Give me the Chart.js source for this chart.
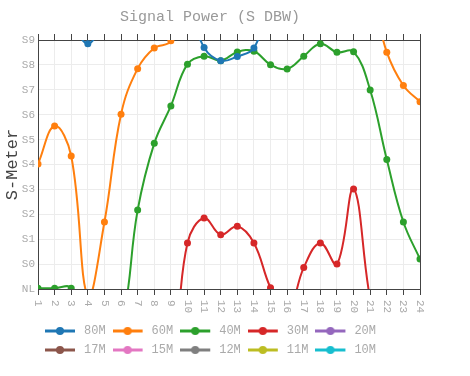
<!DOCTYPE html>
<html>
<head>
<meta charset="utf-8">
<script src="https://cdn.jsdelivr.net/npm/chart.js@4.4.1/dist/chart.umd.min.js"></script>
<style>
    html, body { margin: 0; padding: 0; background: #fff; }
    #signalPower { display: block; }
</style>
</head>
<body>
<canvas id="signalPower" width="470" height="376"></canvas>
<script>
// Hours of the day (x axis)
const hours = ['1', '2', '3', '4', '5', '6', '7', '8', '9', '10', '11', '12',
               '13', '14', '15', '16', '17', '18', '19', '20', '21', '22', '23', '24'];

// S-meter tick labels, value -1 = NL, 0 = S0 ... 9 = S9
const sMeterLabels = ['NL', 'S0', 'S1', 'S2', 'S3', 'S4', 'S5', 'S6', 'S7', 'S8', 'S9'];

const bands = ['80M', '60M', '40M', '30M', '20M', '17M', '15M', '12M', '11M', '10M'];
const bandColors = ['#1f77b4', '#ff7f0e', '#2ca02c', '#d62728', '#9467bd',
                    '#8c564b', '#e377c2', '#7f7f7f', '#bcbd22', '#17becf'];

// Signal readings per hour (values above 9 / below -1 run off the plot)
const band80M = [12, 12, 10, 8.85, 10, 12, 12, 12, 12, 10.5, 8.7, 8.17,
                 8.34, 8.68, 10.5, 12, 12, 12, 12, 12, 12, 12, 12, 12];
const band60M = [4.02, 5.55, 4.34, -1.3, 1.69, 6.02, 7.85, 8.68, 8.97, 12, 12, 12,
                 12, 12, 12, 12, 12, 12, 12, 12, 11, 8.51, 7.17, 6.52];
const band40M = [-0.97, -0.97, -0.97, -3, -3, -2.5, 2.17, 4.85, 6.35, 8.03, 8.35, 8.17,
                 8.52, 8.55, 8.01, 7.84, 8.35, 8.85, 8.51, 8.53, 6.99, 4.2, 1.69, 0.2];
const band30M = [-4, -4, -4, -4, -4, -4, -4, -4, -4, 0.85, 1.85, 1.18,
                 1.52, 0.85, -0.95, -2, -0.14, 0.85, 0, 3.02, -1.4, -4, -4, -4];
const band20M = [-3, -3, -3, -3, -3, -3, -3, -3, -3, -3, -3, -3,
                 -3, -3, -3, -3, -3, -3, -3, -3, -3, -3, -3, -3];
const band17M = [-3, -3, -3, -3, -3, -3, -3, -3, -3, -3, -3, -3,
                 -3, -3, -3, -3, -3, -3, -3, -3, -3, -3, -3, -3];
const band15M = [-3, -3, -3, -3, -3, -3, -3, -3, -3, -3, -3, -3,
                 -3, -3, -3, -3, -3, -3, -3, -3, -3, -3, -3, -3];
const band12M = [-3, -3, -3, -3, -3, -3, -3, -3, -3, -3, -3, -3,
                 -3, -3, -3, -3, -3, -3, -3, -3, -3, -3, -3, -3];
const band11M = [-3, -3, -3, -3, -3, -3, -3, -3, -3, -3, -3, -3,
                 -3, -3, -3, -3, -3, -3, -3, -3, -3, -3, -3, -3];
const band10M = [-3, -3, -3, -3, -3, -3, -3, -3, -3, -3, -3, -3,
                 -3, -3, -3, -3, -3, -3, -3, -3, -3, -3, -3, -3];

const bandValues = [band80M, band60M, band40M, band30M, band20M,
                    band17M, band15M, band12M, band11M, band10M];

const FONT = "'Liberation Mono', 'DejaVu Sans Mono', monospace";
const AXIS = '#444';
const GRID = '#ececec';
const TEXT = '#aaa';

// line + dot marker for the legend
function legendMarker(color) {
    const c = document.createElement('canvas');
    c.width = 33;
    c.height = 10;
    const g = c.getContext('2d');
    g.strokeStyle = color;
    g.lineWidth = 3;
    g.beginPath();
    g.moveTo(0, 5);
    g.lineTo(30, 5);
    g.stroke();
    g.fillStyle = color;
    g.beginPath();
    g.arc(15, 5, 4, 0, Math.PI * 2);
    g.fill();
    return c;
}
const legendMarkers = bandColors.map(legendMarker);

// hour labels drawn rotated clockwise under the bottom axis
const hourLabels = {
    id: 'hourLabels',
    afterDraw(chart) {
        const scale = chart.scales.x;
        const ctx = chart.ctx;
        ctx.save();
        ctx.font = '11px ' + FONT;
        ctx.fillStyle = TEXT;
        ctx.textAlign = 'left';
        ctx.textBaseline = 'middle';
        scale.ticks.forEach((tick, i) => {
            ctx.save();
            ctx.translate(scale.getPixelForTick(i), scale.top + 11);
            ctx.rotate(Math.PI / 2);
            ctx.fillText(hours[i], 0, 0);
            ctx.restore();
        });
        ctx.restore();
    }
};

const datasets = bands.map((band, i) => ({
    label: band,
    data: bandValues[i],
    borderColor: bandColors[i],
    backgroundColor: bandColors[i],
    pointBackgroundColor: bandColors[i],
    pointBorderWidth: 0,
    pointRadius: 3.5,
    borderWidth: 2,
    tension: 0.4,
    fill: false,
    clip: 0
}));

new Chart(document.getElementById('signalPower').getContext('2d'), {
    type: 'line',
    data: { labels: hours, datasets: datasets },
    options: {
        responsive: false,
        animation: false,
        layout: { padding: { top: 0, left: 0, right: 50, bottom: 10 } },
        plugins: {
            title: {
                display: true,
                text: 'Signal Power (S DBW)',
                color: '#999',
                font: { family: FONT, size: 15, weight: 'normal' },
                padding: { top: 8, bottom: 8 }
            },
            legend: {
                position: 'bottom',
                align: 'start',
                fullSize: false,
                labels: {
                    usePointStyle: true,
                    pointStyleWidth: 33,
                    padding: 7,
                    color: TEXT,
                    font: { family: FONT, size: 12 },
                    generateLabels: (chart) =>
                        Chart.defaults.plugins.legend.labels.generateLabels(chart)
                            .map((item, i) => ({ ...item, pointStyle: legendMarkers[i] }))
                }
            },
            tooltip: { enabled: false }
        },
        scales: {
            x: {
                position: 'bottom',
                offset: false,
                grid: { color: GRID, tickColor: AXIS, tickLength: 6 },
                border: { color: AXIS },
                ticks: { display: false },
                afterFit: (scale) => { scale.height = 29; }
            },
            xTop: {
                type: 'category',
                labels: hours,
                position: 'top',
                offset: false,
                grid: { drawOnChartArea: false, tickColor: AXIS, tickLength: 6 },
                border: { color: AXIS },
                ticks: { display: false }
            },
            y: {
                min: -1,
                max: 9,
                grid: { color: GRID, drawTicks: false },
                border: { color: AXIS },
                ticks: {
                    stepSize: 1,
                    padding: 3,
                    color: TEXT,
                    font: { family: FONT, size: 11 },
                    callback: (value) => sMeterLabels[value + 1]
                },
                title: {
                    display: true,
                    text: 'S-Meter',
                    color: AXIS,
                    font: { family: FONT, size: 17 },
                    padding: { top: 2, bottom: 0 }
                },
                afterFit: (scale) => { scale.width = 38; }
            },
            yRight: {
                position: 'right',
                min: -1,
                max: 9,
                grid: { drawOnChartArea: false, drawTicks: false },
                border: { color: AXIS },
                ticks: { display: false }
            }
        }
    },
    plugins: [hourLabels]
});
</script>
</body>
</html>
